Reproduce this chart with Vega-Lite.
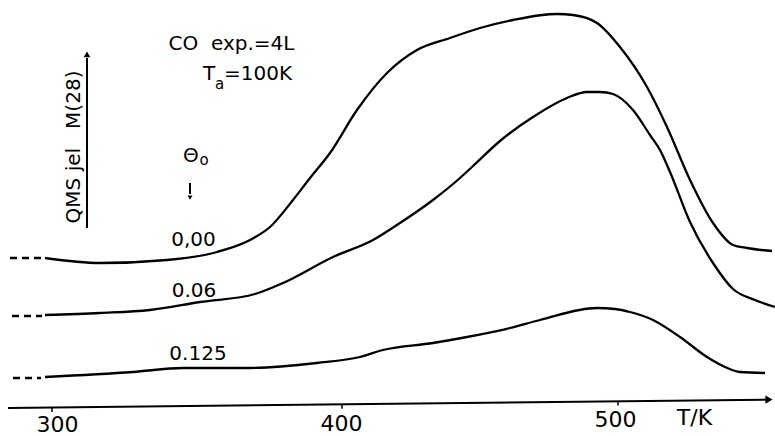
{
  "$schema": "https://vega.github.io/schema/vega-lite/v6.json",
  "width": 775,
  "height": 436,
  "autosize": {"type": "fit", "contains": "padding"},
  "padding": 0,
  "background": "white",
  "config": {"view": {"stroke": null}, "font": "DejaVu Sans"},
  "encoding": {
    "x": {"field": "T", "type": "quantitative", "scale": {"domain": [282.07, 300, 400, 500, 556.88], "range": [0, 52, 342, 618, 775], "nice": false, "zero": false}, "axis": null},
    "y": {"field": "I", "type": "quantitative", "scale": {"domain": [-8, 101], "nice": false, "zero": false}, "axis": null}
  },
  "layer": [
    {
      "data": {"values": [
        {"s": "0.00", "T": 297.59, "I": 36.5},
        {"s": "0.00", "T": 316.55, "I": 35.25},
        {"s": "0.00", "T": 339.66, "I": 36},
        {"s": "0.00", "T": 356.90, "I": 38},
        {"s": "0.00", "T": 368.28, "I": 41},
        {"s": "0.00", "T": 375.17, "I": 44.25},
        {"s": "0.00", "T": 383.10, "I": 51},
        {"s": "0.00", "T": 388.97, "I": 56.5},
        {"s": "0.00", "T": 395.86, "I": 62.75},
        {"s": "0.00", "T": 405.43, "I": 73.5},
        {"s": "0.00", "T": 416.30, "I": 82.75},
        {"s": "0.00", "T": 427.17, "I": 88.5},
        {"s": "0.00", "T": 439.13, "I": 91.5},
        {"s": "0.00", "T": 450.00, "I": 94},
        {"s": "0.00", "T": 461.96, "I": 96},
        {"s": "0.00", "T": 477.90, "I": 97.5},
        {"s": "0.00", "T": 483.70, "I": 97.25},
        {"s": "0.00", "T": 492.39, "I": 95.25},
        {"s": "0.00", "T": 500.72, "I": 89.25},
        {"s": "0.00", "T": 510.51, "I": 79.25},
        {"s": "0.00", "T": 517.75, "I": 69.25},
        {"s": "0.00", "T": 526.09, "I": 56},
        {"s": "0.00", "T": 534.42, "I": 45.25},
        {"s": "0.00", "T": 541.67, "I": 39.75},
        {"s": "0.00", "T": 546.74, "I": 39},
        {"s": "0.00", "T": 555.80, "I": 38.25},
        {"s": "0.06", "T": 297.59, "I": 22.25},
        {"s": "0.06", "T": 316.55, "I": 22.75},
        {"s": "0.06", "T": 333.79, "I": 23.5},
        {"s": "0.06", "T": 351.03, "I": 25.5},
        {"s": "0.06", "T": 370.00, "I": 27.5},
        {"s": "0.06", "T": 379.66, "I": 30.25},
        {"s": "0.06", "T": 396.90, "I": 36.75},
        {"s": "0.06", "T": 411.23, "I": 41},
        {"s": "0.06", "T": 421.01, "I": 45.25},
        {"s": "0.06", "T": 432.97, "I": 51},
        {"s": "0.06", "T": 442.75, "I": 56.5},
        {"s": "0.06", "T": 447.46, "I": 59.5},
        {"s": "0.06", "T": 457.25, "I": 65.75},
        {"s": "0.06", "T": 469.20, "I": 71.75},
        {"s": "0.06", "T": 481.52, "I": 76.5},
        {"s": "0.06", "T": 488.77, "I": 78},
        {"s": "0.06", "T": 493.48, "I": 78},
        {"s": "0.06", "T": 498.19, "I": 77.5},
        {"s": "0.06", "T": 505.43, "I": 73.5},
        {"s": "0.06", "T": 511.59, "I": 67.25},
        {"s": "0.06", "T": 515.22, "I": 63.5},
        {"s": "0.06", "T": 518.84, "I": 58},
        {"s": "0.06", "T": 526.09, "I": 45.5},
        {"s": "0.06", "T": 534.42, "I": 35.25},
        {"s": "0.06", "T": 541.67, "I": 28.75},
        {"s": "0.06", "T": 549.64, "I": 26},
        {"s": "0.06", "T": 556.88, "I": 24.25},
        {"s": "0.125", "T": 297.59, "I": 6.75},
        {"s": "0.125", "T": 327.93, "I": 8},
        {"s": "0.125", "T": 345.17, "I": 9},
        {"s": "0.125", "T": 368.28, "I": 9},
        {"s": "0.125", "T": 391.38, "I": 10.25},
        {"s": "0.125", "T": 406.52, "I": 11.75},
        {"s": "0.125", "T": 414.86, "I": 13.5},
        {"s": "0.125", "T": 432.97, "I": 15.25},
        {"s": "0.125", "T": 445.29, "I": 16.75},
        {"s": "0.125", "T": 460.87, "I": 19},
        {"s": "0.125", "T": 471.74, "I": 21},
        {"s": "0.125", "T": 492.39, "I": 24},
        {"s": "0.125", "T": 498.91, "I": 23.75},
        {"s": "0.125", "T": 504.35, "I": 23},
        {"s": "0.125", "T": 512.68, "I": 21},
        {"s": "0.125", "T": 522.46, "I": 16.75},
        {"s": "0.125", "T": 532.25, "I": 11.75},
        {"s": "0.125", "T": 538.77, "I": 9.25},
        {"s": "0.125", "T": 544.20, "I": 8},
        {"s": "0.125", "T": 553.26, "I": 7.75}
      ]},
      "mark": {"type": "line", "color": "black", "strokeWidth": 2.3, "interpolate": "monotone"},
      "encoding": {"detail": {"field": "s", "type": "nominal"}}
    },
    {
      "data": {"values": [
        {"s": "0.00", "T": 285.52, "I": 36.5},
        {"s": "0.00", "T": 296.55, "I": 36.5},
        {"s": "0.06", "T": 286.21, "I": 22},
        {"s": "0.06", "T": 296.55, "I": 22},
        {"s": "0.125", "T": 286.55, "I": 6.5},
        {"s": "0.125", "T": 296.2, "I": 6.5}
      ]},
      "mark": {"type": "line", "color": "black", "strokeWidth": 2.3, "strokeDash": [7, 5]},
      "encoding": {"detail": {"field": "s", "type": "nominal"}}
    },
    {
      "data": {"values": [
        {"T": 284.83, "I": -1, "T2": 554.71, "I2": 1.1},
        {"T": 312.07, "I": 44, "T2": 312.07, "I2": 86.5},
        {"T": 347.59, "I": 55.25, "T2": 347.59, "I2": 52.5}
      ]},
      "mark": {"type": "rule", "color": "black", "strokeWidth": 2},
      "encoding": {
        "x2": {"field": "T2"},
        "y2": {"field": "I2"}
      }
    },
    {
      "data": {"values": [
        {"T": 300, "I": -0.9, "I2": -2},
        {"T": 400, "I": -0.1, "I2": -1.2},
        {"T": 500, "I": 0.7, "I2": -0.4}
      ]},
      "mark": {"type": "rule", "color": "black", "strokeWidth": 1.5},
      "encoding": {"y2": {"field": "I2"}}
    },
    {
      "data": {"values": [{"T": 554.71, "I": 1.1}]},
      "mark": {"type": "point", "shape": "triangle-right", "filled": true, "color": "black", "size": 70, "opacity": 1}
    },
    {
      "data": {"values": [{"T": 312.07, "I": 87.4}]},
      "mark": {"type": "point", "shape": "triangle-up", "filled": true, "color": "black", "size": 45, "opacity": 1}
    },
    {
      "data": {"values": [{"T": 347.59, "I": 51.6}]},
      "mark": {"type": "point", "shape": "triangle-down", "filled": true, "color": "black", "size": 25, "opacity": 1}
    },
    {
      "data": {"values": [
        {"T": 361.9, "I": 90, "label": "CO\u00a0\u00a0exp.=4L"},
        {"T": 354.14, "I": 82.5, "label": "T"},
        {"T": 371.03, "I": 82.5, "label": "=100K"}
      ]},
      "mark": {"type": "text", "fontSize": 20, "align": "center", "baseline": "middle", "color": "black"},
      "encoding": {"text": {"field": "label"}}
    },
    {
      "data": {"values": [
        {"T": 357.76, "I": 80, "label": "a"},
        {"T": 352.41, "I": 61, "label": "o"}
      ]},
      "mark": {"type": "text", "fontSize": 15, "align": "center", "baseline": "middle", "color": "black"},
      "encoding": {"text": {"field": "label"}}
    },
    {
      "data": {"values": [
        {"T": 347.9, "I": 62.1, "label": "Θ"}
      ]},
      "mark": {"type": "text", "fontSize": 20, "align": "center", "baseline": "middle", "color": "black"},
      "encoding": {"text": {"field": "label"}}
    },
    {
      "data": {"values": [
        {"T": 348.79, "I": 41.1, "label": "0,00"},
        {"T": 348.97, "I": 28.25, "label": "0.06"},
        {"T": 350.34, "I": 12.4, "label": "0.125"}
      ]},
      "mark": {"type": "text", "fontSize": 20, "align": "center", "baseline": "middle", "color": "black"},
      "encoding": {"text": {"field": "label"}}
    },
    {
      "data": {"values": [
        {"T": 301.9, "I": -5.25, "label": "300"},
        {"T": 399.83, "I": -5, "label": "400"},
        {"T": 499.09, "I": -4, "label": "500"},
        {"T": 527.72, "I": -3.5, "label": "T/K"}
      ]},
      "mark": {"type": "text", "fontSize": 22, "align": "center", "baseline": "middle", "color": "black"},
      "encoding": {"text": {"field": "label"}}
    },
    {
      "data": {"values": [
        {"T": 307.6, "I": 64.25, "label": "QMS\u00a0jel\u00a0\u00a0\u00a0M(28)"}
      ]},
      "mark": {"type": "text", "fontSize": 20, "angle": 270, "align": "center", "baseline": "middle", "color": "black"},
      "encoding": {"text": {"field": "label"}}
    }
  ]
}
